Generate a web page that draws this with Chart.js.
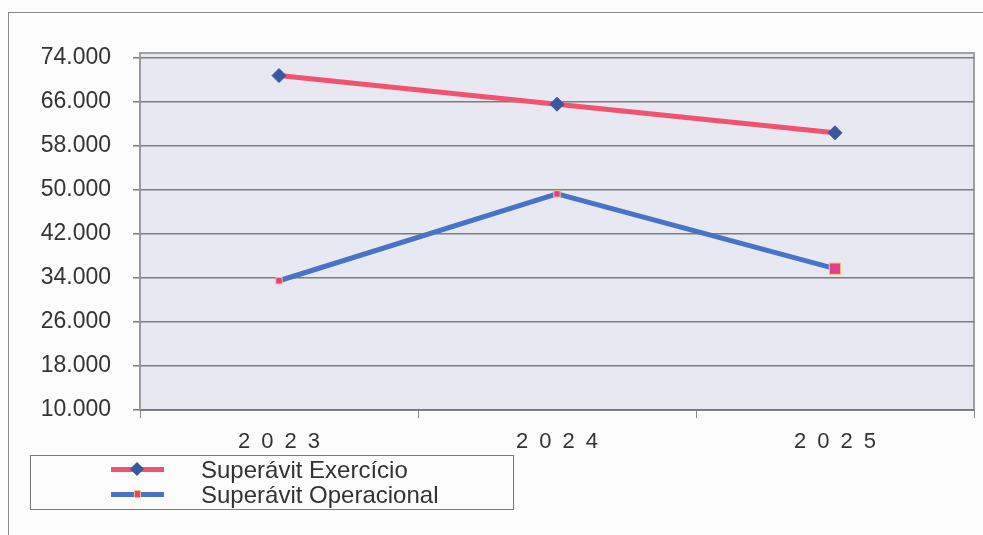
<!DOCTYPE html>
<html>
<head>
<meta charset="utf-8">
<title>Superávit</title>
<script src="https://cdn.jsdelivr.net/npm/chart.js@4/dist/chart.umd.min.js"></script>
<style>
  html, body { margin: 0; padding: 0; background: #fcfcfc; }
  #wrap { position: relative; width: 983px; height: 535px; overflow: hidden; }
  #frame { position: absolute; left: 8px; top: 12px; right: -2px; bottom: -2px;
           border-left: 1px solid #8a8a8a; border-top: 1px solid #8a8a8a; }
  canvas { position: absolute; left: 0; top: 0; }
  #legend { position: absolute; left: 30px; top: 455px; width: 482px; height: 53px;
            border: 1px solid #7a7a7a; font-family: "Liberation Sans", Arial, sans-serif;
            font-size: 24px; color: #333; }
  .item { position: absolute; left: 0; height: 25px; width: 100%; }
  .swatch { position: absolute; left: 80px; top: 10px; width: 53px; height: 5px; }
  .mark { position: absolute; }
  .label { position: absolute; left: 170px; top: 0; line-height: 25px; white-space: nowrap; }
</style>
</head>
<body>
<div id="wrap">
  <div id="frame"></div>
  <canvas id="chart" width="983" height="535"></canvas>
  <div id="legend"></div>
</div>
<script>
// dados
const years = ['2023', '2024', '2025'];
const superavitExercicio = [70800, 65600, 60400];
const superavitOperacional = [33500, 49300, 35700];
const yTicks = [10000, 18000, 26000, 34000, 42000, 50000, 58000, 66000, 74000];

const redLine = 'rgb(240, 82, 112)';
const blueLine = 'rgb(72, 116, 200)';
const diamond = 'rgb(58, 88, 160)';
const pink = 'rgb(226, 62, 140)';
const pinkEdge = 'rgb(244, 200, 120)';

function fmt(v) {
    return String(v).replace(/\B(?=(\d{3})+(?!\d))/g, '.');
}

// fundo da área de plotagem
const plotBg = {
    id: 'plotBg',
    beforeDraw(chart) {
        const { ctx, chartArea: a } = chart;
        ctx.save();
        ctx.fillStyle = 'rgb(231, 232, 242)';
        ctx.fillRect(a.left, a.top - 5, a.right - a.left, a.bottom - a.top + 5);
        ctx.strokeStyle = '#a0a0a0';
        ctx.lineWidth = 2;
        ctx.strokeRect(a.left, a.top - 5, a.right - a.left, a.bottom - a.top + 5);
        ctx.restore();
    }
};

const ctx = document.getElementById('chart').getContext('2d');
const chart = new Chart(ctx, {
    type: 'line',
    data: {
        labels: years,
        datasets: [{
            label: 'Superávit Exercício',
            data: superavitExercicio,
            borderColor: redLine,
            borderWidth: 5,
            pointStyle: 'rectRot',
            pointRadius: 7,
            pointBackgroundColor: diamond,
            pointBorderColor: diamond,
            pointBorderWidth: 1
        }, {
            label: 'Superávit Operacional',
            data: superavitOperacional,
            borderColor: blueLine,
            borderWidth: 5,
            pointStyle: 'rect',
            pointRadius: [4.5, 4.5, 8],
            pointBackgroundColor: pink,
            pointBorderColor: pinkEdge,
            pointBorderWidth: 1
        }]
    },
    options: {
        responsive: false,
        animation: false,
        layout: { padding: { top: 58, right: 1, left: 0, bottom: 0 } },
        plugins: { legend: { display: false }, tooltip: { enabled: false } },
        scales: {
            x: {
                offset: true,
                afterFit: s => { s.height = 125; },
                grid: { display: true, drawOnChartArea: false, offset: true, tickLength: 8, color: '#888' },
                border: { display: true, color: '#777', width: 1.5 },
                ticks: {
                    padding: 11,
                    color: '#333',
                    font: { family: '"Liberation Sans", Arial, sans-serif', size: 22 },
                    callback: function (v) { return this.getLabelForValue(v).split('').join('\u2002'); }
                }
            },
            y: {
                min: yTicks[0],
                max: yTicks[yTicks.length - 1],
                afterFit: s => { s.width = 140; },
                afterBuildTicks: s => { s.ticks = yTicks.map(v => ({ value: v })); },
                grid: { color: '#7c7c7c', lineWidth: 1.5, tickLength: 7 },
                border: { display: true, color: '#999', width: 1.5 },
                ticks: {
                    padding: 22,
                    color: '#333',
                    font: { family: '"Liberation Sans", Arial, sans-serif', size: 23 },
                    callback: v => fmt(v)
                }
            }
        }
    },
    plugins: [plotBg]
});

// legenda em caixa, montada a partir dos datasets
const legend = document.getElementById('legend');
chart.data.datasets.forEach((ds, i) => {
    const item = document.createElement('div');
    item.className = 'item';
    item.style.top = (1 + i * 25) + 'px';
    const sw = document.createElement('div');
    sw.className = 'swatch';
    sw.style.background = ds.borderColor;
    const mk = document.createElement('div');
    mk.className = 'mark';
    if (ds.pointStyle === 'rectRot') {
        mk.style.cssText = 'left:101px;top:7px;width:10px;height:10px;transform:rotate(45deg);background:' + diamond;
    } else {
        mk.style.cssText = 'left:103px;top:8px;width:7px;height:8px;box-sizing:border-box;border:1px solid ' + pinkEdge + ';background:' + pink;
    }
    const lb = document.createElement('div');
    lb.className = 'label';
    lb.textContent = ds.label;
    item.appendChild(sw);
    item.appendChild(mk);
    item.appendChild(lb);
    legend.appendChild(item);
});
</script>
</body>
</html>
